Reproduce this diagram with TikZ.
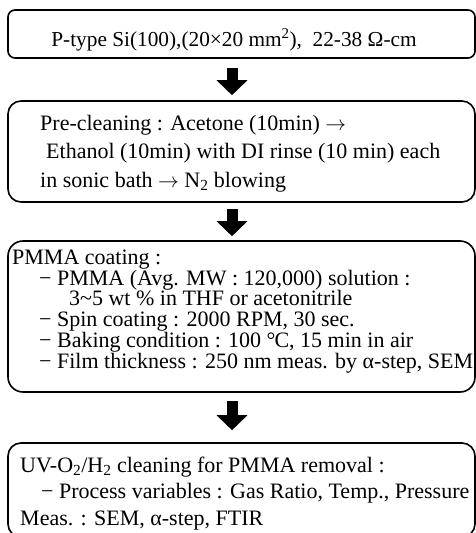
\documentclass[tikz,border=0pt]{standalone}
\usepackage{fontspec}
\setmainfont{Liberation Serif}
\usetikzlibrary{arrows.meta}

\tikzset{
  stepframe/.style={draw=black, line width=1.6pt, rounded corners=#1, minimum width=467pt, inner sep=0pt},
  stepframe/.default=8pt,
  steptext/.style={anchor=north west, inner sep=0pt, align=left, font=\fontsize{22}{27}\selectfont},
  downarrow/.style={line width=11pt, -{Triangle[width=30pt, length=15pt]}}
}

\begin{document}
\begin{tikzpicture}[x=1pt, y=-1pt]
\useasboundingbox (0,0) rectangle (476,533);

% frames of the four steps
\node (substrate) [stepframe=7pt, minimum height=48pt] at (241.5,34) {};
\node (cleaning) [stepframe=13pt, minimum height=101pt] at (241.5,151.5) {};
\node (coating) [stepframe=15pt, minimum height=151pt] at (241.5,316.5) {};
\node (removal) [stepframe=13pt, minimum height=94pt] at (241.5,490) {};

% texts
\node (substrate text) [inner sep=0pt, font=\fontsize{21.3}{27}\selectfont] at (234,40) {P-type Si(100),(20×20 mm\textsuperscript{2}),\ \ 22-38 Ω-cm};
\node (cleaning text) [steptext, font=\fontsize{22}{28.5}\selectfont] at (40,115) {Pre-cleaning : Acetone (10min) $\rightarrow$\\
  \hspace*{6pt}Ethanol (10min) with DI rinse (10 min) each\\
  in sonic bath $\rightarrow$ N\textsubscript{2} blowing};
\node (coating text) [steptext, font=\fontsize{22}{20.8}\selectfont] at (12,249.5) {PMMA coating :\\
  \hspace*{27pt}− PMMA (Avg. MW : 120,000) solution :\\
  \hspace*{57pt}3\textasciitilde5 wt \% in THF or acetonitrile\\
  \hspace*{27pt}− Spin coating : 2000 RPM, 30 sec.\\
  \hspace*{27pt}− Baking condition : 100 °\kern-1pt C, 15 min in air\\
  \hspace*{27pt}− Film thickness : 250 nm meas. by α-step, SEM};
\node (removal text) [steptext, font=\fontsize{22}{26.5}\selectfont] at (20,456.5) {UV-O\textsubscript{2}/H\textsubscript{2} cleaning for PMMA removal :\\
  \hspace*{21pt}− Process variables : Gas Ratio, Temp., Pressure\\
  Meas. : SEM, α-step, FTIR};

% arrows
\coordinate (axis) at (232,0);
\draw [downarrow, shorten <=9pt, shorten >=5pt] (substrate.south -| axis) -- (cleaning.north -| axis);
\draw [downarrow, shorten <=6pt, shorten >=4pt] (cleaning.south -| axis) -- (coating.north -| axis);
\draw [downarrow, shorten <=8pt, shorten >=12pt] (coating.south -| axis) -- (removal.north -| axis);
\end{tikzpicture}
\end{document}
